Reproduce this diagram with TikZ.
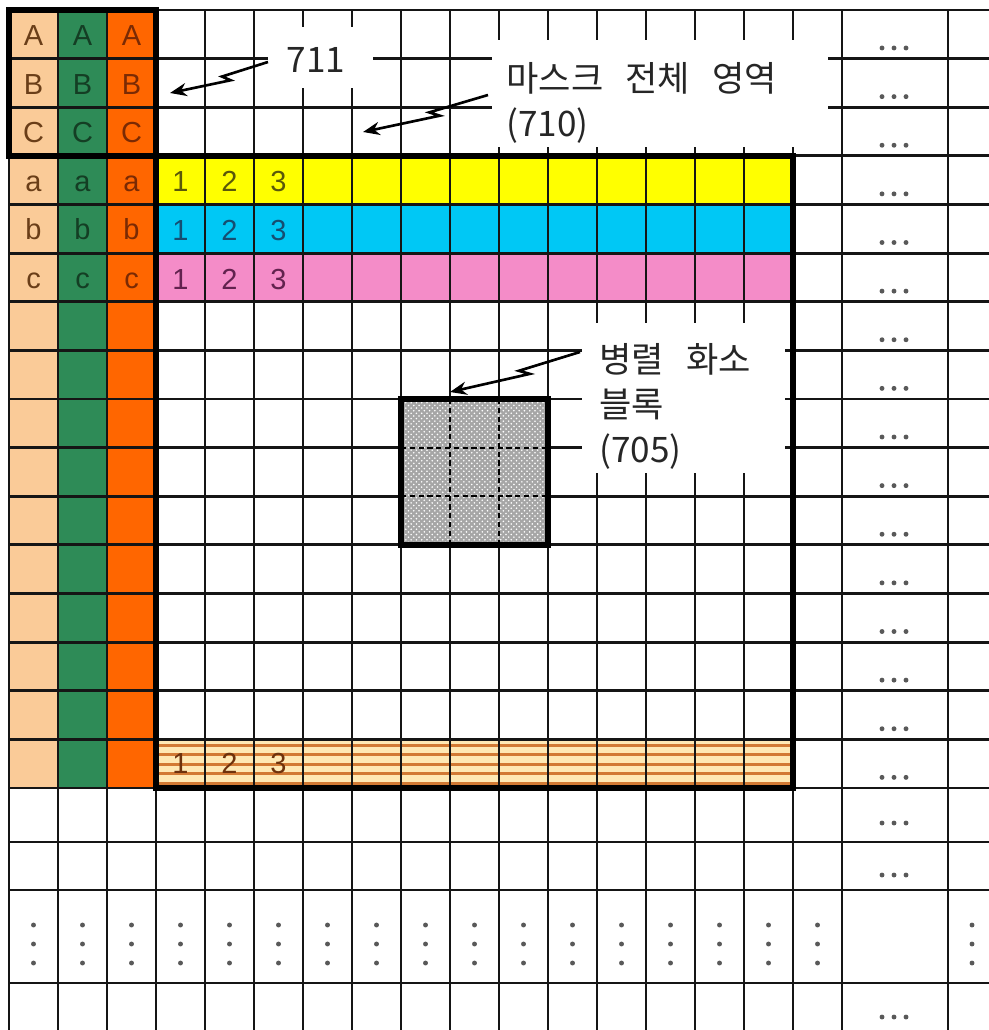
\documentclass[tikz,border=0pt]{standalone}
\usepackage{fontspec}
\setmainfont{Liberation Sans}
\newfontfamily\krfont[WordSpace=2.8]{Noto Sans CJK KR}
\usetikzlibrary{calc,arrows.meta,patterns}

\definecolor{peach}{HTML}{FACB98}
\definecolor{seagrn}{HTML}{2E8B57}
\definecolor{orng}{HTML}{FF6600}
\definecolor{yel}{HTML}{FFFF00}
\definecolor{cyn}{HTML}{00C8F5}
\definecolor{pnk}{HTML}{F48CC8}
\definecolor{stripeA}{HTML}{D27A34}
\definecolor{stripeB}{HTML}{FFE9B4}
\definecolor{gridc}{HTML}{151515}
\definecolor{peachtxt}{HTML}{6A3E18}
\definecolor{grntxt}{HTML}{143E24}
\definecolor{orngtxt}{HTML}{7A2A04}
\definecolor{yeltxt}{HTML}{5A580A}
\definecolor{cyntxt}{HTML}{154E72}
\definecolor{pnktxt}{HTML}{62224E}
\definecolor{stripetxt}{HTML}{6E320C}

\tikzset{
  gridline/.style={line width=1.6pt, draw=gridc},
  thickbox/.style={line width=3.2pt, draw=black},
  stripe/.style={line width=1.7pt, draw=stripeA},
  celltxt/.style={font=\fontsize{16.5}{19}\selectfont, inner sep=0pt, anchor=base},
  lbl/.style={font=\krfont\fontsize{20}{25.5}\selectfont, text=black!85, inner sep=0pt, align=left},
  zig/.style={line width=1.5pt, -{Stealth[length=9.5pt,width=7.5pt]},
    to path={-- ($(\tikztostart)!0.47!(\tikztotarget)$)
      -- ($($(\tikztostart)!0.40!(\tikztotarget)$)!3.5pt!90:(\tikztotarget)$)
      -- (\tikztotarget)}},
  dotc/.style={fill=black!65},
}

\begin{document}
\begin{tikzpicture}[x=0.02cm,y=-0.02cm]
\useasboundingbox (0,0) rectangle (989,1030);
% coloured cells
\fill[peach] (9,10) rectangle (58,788);
\fill[seagrn] (58,10) rectangle (107,788);
\fill[orng] (107,10) rectangle (156,788);
\fill[yel] (156,155.875) rectangle (793,204.5);
\fill[cyn] (156,204.5) rectangle (793,253.125);
\fill[pnk] (156,253.125) rectangle (793,301.75);
\fill[stripeB] (156,739.375) rectangle (793,788);
\foreach \y in {745,754.5,764,773.5,783}
  \draw[stripe] (156,\y) -- (793,\y);
% grid
\foreach \k in {0,...,17}
  \draw[gridline] ({9+49*\k},10) -- ({9+49*\k},1030);
\draw[gridline] (948,10) -- (948,1030);
\foreach \k in {0,...,16}
  \draw[gridline] (9,{10+48.625*\k}) -- (989,{10+48.625*\k});
\foreach \y in {842,890,983}
  \draw[gridline] (9,\y) -- (989,\y);
% white label backgrounds
\fill[white] (268,27) rectangle (373,88);
\fill[white] (492,40) rectangle (828,147);
\fill[white] (582,323) rectangle (785,473);
% parallel pixel block
\fill[gray!70] (401,399) rectangle (548,544.875);
\fill[pattern=crosshatch dots, pattern color=white] (401,399) rectangle (548,544.875);
\draw[line width=1.2pt, dash pattern=on 3pt off 2pt] (450,399) -- (450,544.875);
\draw[line width=1.2pt, dash pattern=on 3pt off 2pt] (499,399) -- (499,544.875);
\draw[line width=1.2pt, dash pattern=on 3pt off 2pt] (401,447.625) -- (548,447.625);
\draw[line width=1.2pt, dash pattern=on 3pt off 2pt] (401,496.25) -- (548,496.25);
\draw[thickbox] (401,399) rectangle (548,544.875);
% thick borders
\draw[thickbox] (9,10) rectangle (156,155.875);
\draw[thickbox] (156,155.875) rectangle (793,788);
% letters
\foreach \t [count=\r from 0] in {A,B,C,a,b,c} {
  \node[celltxt,text=peachtxt] (p\r) at (33.5,{45.5+48.625*\r}) {\t};
  \node[celltxt,text=grntxt] (g\r) at (82.5,{45.5+48.625*\r}) {\t};
  \node[celltxt,text=orngtxt] (o\r) at (131.5,{45.5+48.625*\r}) {\t};
}
\foreach \n in {1,2,3} {
  \node[celltxt,text=yeltxt] (y\n) at ({156+49*\n-24.5},192) {\n};
  \node[celltxt,text=cyntxt] (c\n) at ({156+49*\n-24.5},240.6) {\n};
  \node[celltxt,text=pnktxt] (k\n) at ({156+49*\n-24.5},289.3) {\n};
  \node[celltxt,text=stripetxt] (s\n) at ({156+49*\n-24.5},773) {\n};
}
% dots
\foreach \k in {0,...,15}
  \foreach \dx in {882,894,906}
    \fill[dotc] (\dx,{48+48.625*\k}) circle (1.4pt);
\foreach \y in {823,875,1017}
  \foreach \dx in {882,894,906}
    \fill[dotc] (\dx,\y) circle (1.4pt);
\foreach \c in {0,...,16}
  \foreach \y in {925,944,963}
    \fill[dotc] ({33.5+49*\c},\y) circle (1.4pt);
\foreach \y in {925,944,963}
  \fill[dotc] (972,\y) circle (1.4pt);
% labels
\node[lbl,anchor=base] (l711) at (316,73) {711};
\node[lbl,anchor=north west] (l710) at (506,62) {마스크 전체 영역\\(710)};
\node[lbl,anchor=north west] (l705) at (599,343) {병렬 화소\\블록\\(705)};
\coordinate (s711) at (268,62);
\coordinate (e711) at (170,93);
\coordinate (s710) at (488,95);
\coordinate (e710) at (363,132);
\coordinate (s705) at (580,352);
\coordinate (e705) at (450,392);
\draw[zig] (s711) to (e711);
\draw[zig] (s710) to (e710);
\draw[zig] (s705) to (e705);
\end{tikzpicture}
\end{document}
